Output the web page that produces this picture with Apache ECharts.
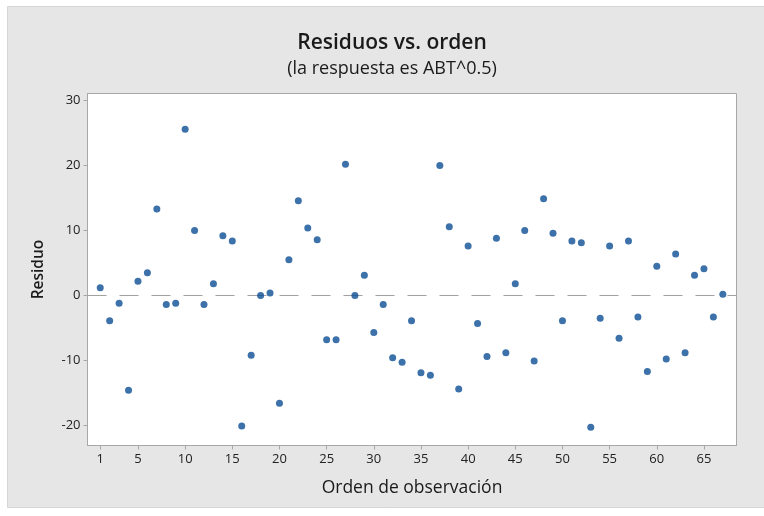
<!DOCTYPE html>
<html>
<head>
<meta charset="utf-8">
<title>Residuos vs. orden</title>
<script src="https://cdn.jsdelivr.net/npm/echarts@6/dist/echarts.min.js"></script>
<style>
  html, body { margin: 0; padding: 0; background: #ffffff; }
  #chart { width: 764px; height: 516px; }
</style>
</head>
<body>
<div id="chart"></div>
<script>
// Observation order and the residuals of the fit (response ABT^0.5)
const orden = [
  1, 2, 3, 4, 5, 6, 7, 8, 9, 10, 11, 12, 13, 14, 15, 16, 17, 18, 19, 20,
  21, 22, 23, 24, 25, 26, 27, 28, 29, 30, 31, 32, 33, 34, 35, 36, 37, 38, 39, 40,
  41, 42, 43, 44, 45, 46, 47, 48, 49, 50, 51, 52, 53, 54, 55, 56, 57, 58, 59, 60,
  61, 62, 63, 64, 65, 66, 67
];
const residuos = [
  1.2, -3.9, -1.2, -14.6, 2.2, 3.5, 13.3, -1.4, -1.2, 25.6,
  10.0, -1.4, 1.8, 9.2, 8.4, -20.1, -9.2, 0.0, 0.4, -16.6,
  5.5, 14.6, 10.4, 8.6, -6.8, -6.8, 20.2, 0.0, 3.1, -5.7,
  -1.4, -9.6, -10.3, -3.9, -11.9, -12.3, 20.0, 10.6, -14.4, 7.6,
  -4.3, -9.4, 8.8, -8.8, 1.8, 10.0, -10.1, 14.9, 9.6, -3.9,
  8.4, 8.1, -20.3, -3.5, 7.6, -6.6, 8.4, -3.3, -11.7, 4.5,
  -9.8, 6.4, -8.8, 3.1, 4.1, -3.3, 0.2
];
// Tick positions shown on each axis
const xTicks = [1, 5, 10, 15, 20, 25, 30, 35, 40, 45, 50, 55, 60, 65];
const yTicks = [-20, -10, 0, 10, 20, 30];
// Axis extents (with the usual padding around the data)
const xMin = -0.35, xMax = 68.45;
const yMin = -23.1, yMax = 31.1;
// Reference level for residuals
const nivelCero = 0;

const puntos = orden.map((o, i) => [o, residuos[i]]);

const fontUI = '"Open Sans", "Noto Sans", sans-serif';
const chart = echarts.init(document.getElementById('chart'), null, { renderer: 'canvas' });

chart.setOption({
  backgroundColor: '#ffffff',
  animation: false,
  graphic: [
    {
      type: 'rect',
      z: -10,
      shape: { x: 7.5, y: 6.5, width: 760, height: 501 },
      style: { fill: '#e6e6e6', stroke: '#d6d6d6', lineWidth: 1 }
    }
  ],
  title: {
    text: 'Residuos vs. orden',
    subtext: '(la respuesta es ABT^0.5)',
    left: 387,
    textAlign: 'center',
    top: 28,
    itemGap: 6,
    textStyle: { fontFamily: fontUI, fontSize: 21, fontWeight: 600, color: '#1a1a1a' },
    subtextStyle: { fontFamily: fontUI, fontSize: 18, fontWeight: 400, color: '#1a1a1a' }
  },
  grid: {
    left: 87.5,
    right: 27.5,
    top: 93.5,
    bottom: 70.5,
    show: true,
    backgroundColor: '#ffffff',
    borderColor: '#a8a8a8',
    borderWidth: 1
  },
  xAxis: {
    type: 'value',
    min: xMin,
    max: xMax,
    name: 'Orden de observación',
    nameLocation: 'middle',
    nameGap: 34,
    nameTextStyle: { fontFamily: fontUI, fontSize: 17.5, color: '#1a1a1a' },
    axisLine: { show: true, onZero: false, lineStyle: { color: '#a8a8a8' } },
    axisTick: { show: true, length: 4, customValues: xTicks, lineStyle: { color: '#a8a8a8' } },
    axisLabel: { customValues: xTicks, margin: 7, fontFamily: fontUI, fontSize: 13, color: '#222222' },
    splitLine: { show: false }
  },
  yAxis: {
    type: 'value',
    min: yMin,
    max: yMax,
    name: 'Residuo',
    nameLocation: 'middle',
    nameGap: 41,
    nameTextStyle: { fontFamily: fontUI, fontSize: 15.5, fontWeight: 600, color: '#1a1a1a' },
    axisLine: { show: true, onZero: false, lineStyle: { color: '#a8a8a8' } },
    axisTick: { show: true, length: 4, customValues: yTicks, lineStyle: { color: '#a8a8a8' } },
    axisLabel: { customValues: yTicks, margin: 7, fontFamily: fontUI, fontSize: 13, color: '#222222' },
    splitLine: { show: false }
  },
  series: [
    {
      // dashed reference line at zero, spanning the whole axis
      type: 'line',
      data: [[xMin, nivelCero], [xMax, nivelCero]],
      symbol: 'none',
      silent: true,
      z: 1,
      lineStyle: { color: '#a0a0a0', width: 1, type: [19, 13] }
    },
    {
      type: 'scatter',
      data: puntos,
      symbol: 'circle',
      symbolSize: 7,
      z: 3,
      itemStyle: { color: '#0b4d94' }
    }
  ]
});
</script>
</body>
</html>
